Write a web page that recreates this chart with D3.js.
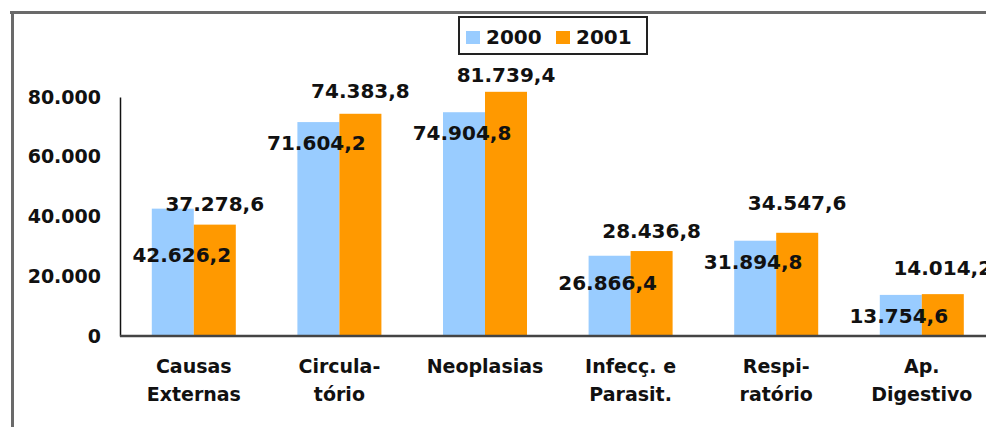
<!DOCTYPE html>
<html lang="pt">
  <head>
    <meta charset="UTF-8" />
    <title>Óbitos por causa</title>
    <style>
      body { margin: 0; background: #fff; }
      svg { display: block; font-family: "DejaVu Sans", Verdana, sans-serif; font-weight: bold; }
    </style>
  </head>
  <body>
    <div id="chart"></div>

    <script src="https://cdn.jsdelivr.net/npm/d3@7"></script>
    <script>
      const categories = [
        ["Causas", "Externas"],
        ["Circula-", "tório"],
        ["Neoplasias"],
        ["Infecç. e", "Parasit."],
        ["Respi-", "ratório"],
        ["Ap.", "Digestivo"]
      ];
      const years = ["2000", "2001"];
      const values2000 = [42626.2, 71604.2, 74904.8, 26866.4, 31894.8, 13754.6];
      const values2001 = [37278.6, 74383.8, 81739.4, 28436.8, 34547.6, 14014.2];
      const yTicks = [0, 20000, 40000, 60000, 80000];

      // hand-placed label nudges from the original (px)
      const nudge2000 = [[11, 25], [0, 0], [0, 0], [0, 6], [0, 0], [0, 0]];
      const nudge2001 = [[0, 0], [0, -2], [0, 4], [0, 1], [0, -9], [0, -5]];

      const colors = { "2000": "#99ccff", "2001": "#ff9900" };

      const width = 986, height = 427;
      const pt = d3.formatLocale({ decimal: ",", thousands: ".", grouping: [3], currency: ["R$", ""] });
      const fmtTick = pt.format(",");
      const fmtVal = pt.format(",.1f");

      const svg = d3.select("#chart").append("svg")
        .attr("width", width)
        .attr("height", height);

      // frame (cut off at right/bottom)
      svg.append("line")
        .attr("x1", 10).attr("x2", width).attr("y1", 12.5).attr("y2", 12.5)
        .attr("stroke", "#6a6a6a").attr("stroke-width", 3);
      svg.append("line")
        .attr("x1", 12.5).attr("x2", 12.5).attr("y1", 11).attr("y2", height)
        .attr("stroke", "#6a6a6a").attr("stroke-width", 3);

      const x0 = d3.scaleBand()
        .domain(d3.range(categories.length))
        .range([121, 994.6])
        .paddingInner(0.423)
        .paddingOuter(0.2115);
      const x1 = d3.scaleBand().domain(years).range([0, x0.bandwidth()]);
      const y = d3.scaleLinear().domain([0, 80000]).range([336, 97]);

      const rows = categories.map((c, i) => ({ i, cat: c, v: { "2000": values2000[i], "2001": values2001[i] } }));

      // y axis
      const yAxis = svg.append("g")
        .attr("transform", "translate(120,0)")
        .call(d3.axisLeft(y).tickValues(yTicks).tickFormat(fmtTick).tickSize(0).tickPadding(19));
      yAxis.select(".domain").attr("stroke", "#111").attr("stroke-width", 1.5);
      yAxis.selectAll("text")
        .attr("font-size", 19).attr("font-family", "DejaVu Sans").attr("font-weight", "bold").attr("fill", "#111");

      // bars
      const groups = svg.selectAll("g.cat").data(rows).join("g")
        .attr("class", "cat")
        .attr("transform", d => `translate(${x0(d.i)},0)`);

      groups.selectAll("rect").data(d => years.map(k => ({ k, v: d.v[k] }))).join("rect")
        .attr("x", d => x1(d.k))
        .attr("y", d => y(d.v))
        .attr("width", x1.bandwidth())
        .attr("height", d => y(0) - y(d.v))
        .attr("fill", d => colors[d.k]);

      // x axis line
      svg.append("line")
        .attr("x1", 120).attr("x2", width).attr("y1", y(0)).attr("y2", y(0))
        .attr("stroke", "#444").attr("stroke-width", 2.5);

      // value labels
      const valueLabels = svg.append("g")
        .attr("font-size", 20).attr("fill", "#111").attr("text-anchor", "middle");

      rows.forEach(d => {
        const cx0 = x0(d.i) + x1("2000") + x1.bandwidth() / 2;
        const cx1 = x0(d.i) + x1("2001") + x1.bandwidth() / 2;
        valueLabels.append("text")
          .attr("x", cx0 - 2 + nudge2000[d.i][0])
          .attr("y", y(d.v["2000"]) + 21 + nudge2000[d.i][1])
          .attr("dy", "0.36em")
          .text(fmtVal(d.v["2000"]));
        valueLabels.append("text")
          .attr("x", cx1 + nudge2001[d.i][0])
          .attr("y", y(d.v["2001"]) - 21 + nudge2001[d.i][1])
          .attr("dy", "0.36em")
          .text(fmtVal(d.v["2001"]));
      });

      // category labels
      const catLabels = svg.append("g")
        .attr("font-size", 19).attr("fill", "#111").attr("text-anchor", "middle");
      rows.forEach(d => {
        const t = catLabels.append("text")
          .attr("x", x0(d.i) + x0.bandwidth() / 2)
          .attr("y", 373);
        d.cat.forEach((line, j) => {
          t.append("tspan")
            .attr("x", x0(d.i) + x0.bandwidth() / 2)
            .attr("dy", j === 0 ? 0 : 28)
            .text(line);
        });
      });

      // legend
      const legend = svg.append("g").attr("transform", "translate(459,17)");
      legend.append("rect")
        .attr("width", 188).attr("height", 37)
        .attr("fill", "#fff").attr("stroke", "#222").attr("stroke-width", 2);
      years.forEach((k, i) => {
        const lx = 7 + i * 90;
        legend.append("rect")
          .attr("x", lx).attr("y", 14).attr("width", 14).attr("height", 13)
          .attr("fill", colors[k]);
        legend.append("text")
          .attr("x", lx + 20).attr("y", 20).attr("dy", "0.36em")
          .attr("font-size", 20).attr("fill", "#111")
          .text(k);
      });
    </script>
  </body>
</html>
